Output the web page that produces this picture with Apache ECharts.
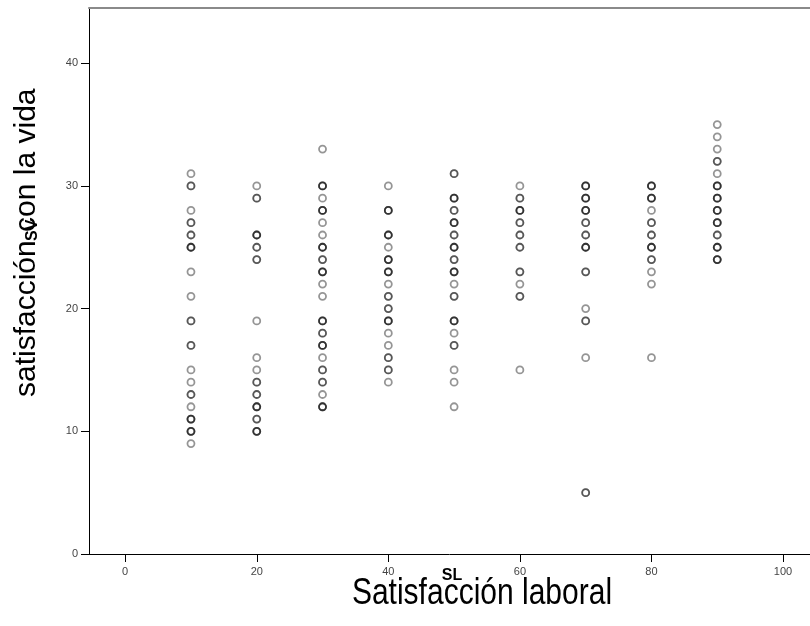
<!DOCTYPE html>
<html>
<head>
<meta charset="utf-8">
<script src="https://cdn.jsdelivr.net/npm/echarts@6/dist/echarts.min.js"></script>
<style>
  html, body { margin: 0; padding: 0; background: #fff; }
  #chart { width: 810px; height: 626px; }
</style>
</head>
<body>
<div id="chart"></div>
<script>
// Satisfacción laboral (SL) levels
const slLevels = [10, 20, 30, 40, 50, 60, 70, 80, 90];

// Distinct SV values per SL level and how many cases share each value
const sv10 = [31, 30, 28, 27, 26, 25, 23, 21, 19, 17, 15, 14, 13, 12, 11, 10, 9];
const n10  = [ 1,  2,  1,  2,  2,  3,  1,  1,  2,  2,  1,  1,  2,  1,  3,  3, 1];
const sv20 = [30, 29, 26, 25, 24, 19, 16, 15, 14, 13, 12, 11, 10];
const n20  = [ 1,  2,  3,  2,  2,  1,  1,  1,  2,  2,  3,  2,  3];
const sv30 = [33, 30, 29, 28, 27, 26, 25, 24, 23, 22, 21, 19, 18, 17, 16, 15, 14, 13, 12];
const n30  = [ 1,  3,  1,  3,  1,  1,  3,  2,  3,  1,  1,  3,  2,  3,  1,  2,  2,  1,  3];
const sv40 = [30, 28, 26, 25, 24, 23, 22, 21, 20, 19, 18, 17, 16, 15, 14];
const n40  = [ 1,  3,  3,  1,  3,  3,  1,  2,  2,  3,  1,  1,  2,  2,  1];
const sv50 = [31, 29, 28, 27, 26, 25, 24, 23, 22, 21, 19, 18, 17, 15, 14, 12];
const n50  = [ 2,  3,  2,  3,  2,  3,  2,  3,  1,  2,  3,  1,  2,  1,  1,  1];
const sv60 = [30, 29, 28, 27, 26, 25, 23, 22, 21, 15];
const n60  = [ 1,  2,  3,  2,  2,  2,  2,  1,  2,  1];
const sv70 = [30, 29, 28, 27, 26, 25, 23, 20, 19, 16, 5];
const n70  = [ 3,  3,  3,  2,  2,  3,  2,  1,  2,  1, 2];
const sv80 = [30, 29, 28, 27, 26, 25, 24, 23, 22, 16];
const n80  = [ 3,  3,  1,  2,  2,  3,  2,  1,  1,  1];
const sv90 = [35, 34, 33, 32, 31, 30, 29, 28, 27, 26, 25, 24];
const n90  = [ 1,  1,  1,  2,  1,  3,  3,  3,  3,  2,  3,  3];

// Tick labels
const xTicks = [0, 20, 40, 60, 80, 100];
const yTicks = [0, 10, 20, 30, 40];

const xTitle = 'Satisfacción laboral';
const xVarName = 'SL';
const yTitle = 'satisfacción con la vida';
const yVarName = 'SV';

const svByLevel = [sv10, sv20, sv30, sv40, sv50, sv60, sv70, sv80, sv90];
const nByLevel  = [n10, n20, n30, n40, n50, n60, n70, n80, n90];

const points = [];
slLevels.forEach((sl, i) => {
  svByLevel[i].forEach((sv, j) => {
    for (let k = 0; k < nByLevel[i][j]; k++) points.push([sl, sv]);
  });
});

const chart = echarts.init(document.getElementById('chart'), null, { renderer: 'canvas' });
const sans = "'Liberation Sans', Arial, sans-serif";

chart.setOption({
  animation: false,
  backgroundColor: '#ffffff',
  grid: { left: 89, right: 0, top: 8, bottom: 72, containLabel: false },
  xAxis: [{
    type: 'value',
    min: -5.5,
    max: 104.1,
    position: 'bottom',
    splitLine: { show: false },
    axisLine: { show: true, onZero: false, lineStyle: { color: '#000', width: 1 } },
    axisTick: { show: true, inside: false, length: 8, customValues: xTicks, lineStyle: { color: '#000' } },
    axisLabel: { show: true, customValues: xTicks, color: '#444', fontFamily: sans, fontSize: 11, margin: 12 }
  }, {
    type: 'value',
    min: -5.5,
    max: 104.1,
    position: 'top',
    splitLine: { show: false },
    axisLine: { show: true, onZero: false, lineStyle: { color: '#8a8a8a', width: 2 } },
    axisTick: { show: false },
    axisLabel: { show: false }
  }],
  yAxis: {
    type: 'value',
    min: 0,
    max: 44.5,
    splitLine: { show: false },
    axisLine: { show: true, onZero: false, lineStyle: { color: '#000', width: 1 } },
    axisTick: { show: true, inside: false, length: 8, customValues: yTicks, lineStyle: { color: '#000' } },
    axisLabel: { show: true, customValues: yTicks, color: '#444', fontFamily: sans, fontSize: 11, margin: 11 }
  },
  series: [{
    type: 'scatter',
    xAxisIndex: 0,
    data: points,
    symbol: 'circle',
    symbolSize: 7,
    itemStyle: { color: 'rgba(0,0,0,0)', borderColor: 'rgba(0,0,0,0.52)', borderWidth: 1.8 },
    emphasis: { disabled: true }
  }],
  graphic: [
    { type: 'text', x: 482, y: 612, scaleY: 1.25,
      style: { text: xTitle, font: "30px " + sans, fill: '#000', textAlign: 'center', textVerticalAlign: 'bottom' } },
    { type: 'text', x: 452, y: 584,
      style: { text: xVarName, font: "bold 16px " + sans, fill: '#000', textAlign: 'center', textVerticalAlign: 'bottom' } },
    { type: 'text', x: 12, y: 397, rotation: Math.PI / 2,
      style: { text: yTitle, font: "30px " + sans, fill: '#000', textAlign: 'left', textVerticalAlign: 'top' } },
    { type: 'text', x: 25, y: 241, rotation: Math.PI / 2,
      style: { text: yVarName, font: "bold 16px " + sans, fill: '#000', textAlign: 'left', textVerticalAlign: 'top' } }
  ]
});
</script>
</body>
</html>
